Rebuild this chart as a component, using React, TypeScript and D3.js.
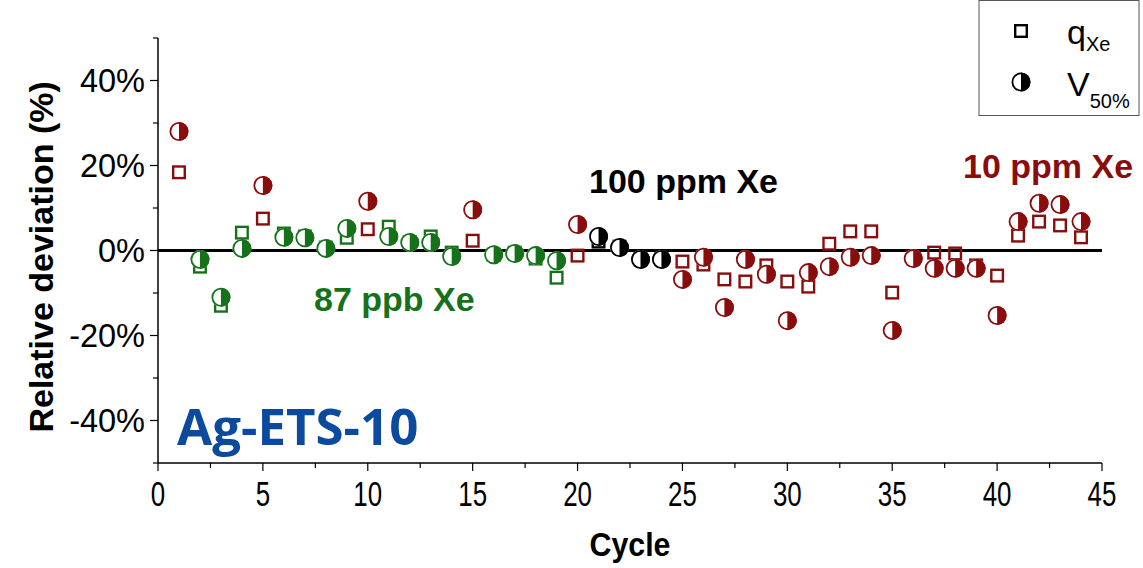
import React, { useRef, useEffect } from "react";
import * as d3 from "d3";

// Layout
const WIDTH = 1143;
const HEIGHT = 568;
const PLOT_LEFT = 158;
const PLOT_RIGHT = 1102;
const PLOT_TOP = 38;
const PLOT_BOTTOM = 463;

const SQUARE_SIZE = 14;
const CIRCLE_R = 9.5;

const RED = "#8a0d0d";
const GREEN = "#16721a";
const BLACK = "#000000";
const BLUE = "#0b4a9c";

// Data (relative deviation, %)
const cycles = d3.range(1, 45);
const qXe = [
  18.4, -3.8, -13, 4.2, 7.5, 4, 3.3, 0.7, 3, 5,
  5.6, 2, 3.3, -0.5, 2.3, -1, -0.5, -1.9, -6.4, -1.2,
  2.1, 0.9, -1.9, -1.9, -2.6, -3.3, -6.8, -7.3, -3.5, -7.3,
  -8.5, 1.6, 4.5, 4.5, -9.9, -1.6, -0.5, -0.7, -3.5, -5.9,
  3.5, 6.8, 5.9, 3.1
];
const v50 = [
  28, -2.1, -11, 0.5, 15.3, 3.1, 3, 0.5, 5.2, 11.6,
  3.3, 1.9, 1.9, -1.4, 9.6, -1, -0.7, -1.2, -2.4, 6.1,
  3.3, 0.7, -2.1, -2.1, -6.8, -1.6, -13.4, -2.1, -5.6, -16.5,
  -5.2, -3.8, -1.6, -1.2, -18.8, -1.9, -4.2, -4.2, -4.2, -15.3,
  6.8, 11.1, 10.8, 6.8
];
// feed gas for each cycle: "10ppm" | "87ppb" | "100ppm"
const feed = [
  "10ppm", "87ppb", "87ppb", "87ppb", "10ppm", "87ppb", "87ppb", "87ppb", "87ppb", "10ppm",
  "87ppb", "87ppb", "87ppb", "87ppb", "10ppm", "87ppb", "87ppb", "87ppb", "87ppb", "10ppm",
  "100ppm", "100ppm", "100ppm", "100ppm", "10ppm", "10ppm", "10ppm", "10ppm", "10ppm", "10ppm",
  "10ppm", "10ppm", "10ppm", "10ppm", "10ppm", "10ppm", "10ppm", "10ppm", "10ppm", "10ppm",
  "10ppm", "10ppm", "10ppm", "10ppm"
];
const xTicks = d3.range(0, 46, 5);
const yTicks = [-40, -20, 0, 20, 40];

const feedColor = { "10ppm": RED, "87ppb": GREEN, "100ppm": BLACK };

export default function App() {
  const svgRef = useRef(null);

  useEffect(() => {
    drawChart();
  }, []);

  function halfCircle(g, cx, cy, color) {
    g.append("circle")
      .attr("cx", cx).attr("cy", cy).attr("r", CIRCLE_R)
      .attr("fill", "#fff");
    // right half filled
    g.append("path")
      .attr("d", `M${cx},${cy - CIRCLE_R} A${CIRCLE_R},${CIRCLE_R} 0 0 1 ${cx},${cy + CIRCLE_R} Z`)
      .attr("fill", color);
    g.append("circle")
      .attr("cx", cx).attr("cy", cy).attr("r", CIRCLE_R - 0.9)
      .attr("fill", "none")
      .attr("stroke", color)
      .attr("stroke-width", 1.8);
  }

  function square(g, cx, cy, color) {
    g.append("rect")
      .attr("x", cx - SQUARE_SIZE / 2 + 1.2)
      .attr("y", cy - SQUARE_SIZE / 2 + 1.2)
      .attr("width", SQUARE_SIZE - 2.4)
      .attr("height", SQUARE_SIZE - 2.4)
      .attr("fill", "none")
      .attr("stroke", color)
      .attr("stroke-width", 2.4);
  }

  function drawChart() {
    const svg = d3.select(svgRef.current);
    svg.selectAll("*").remove();

    const x = d3.scaleLinear().domain([0, 45]).range([PLOT_LEFT, PLOT_RIGHT]);
    const y = d3.scaleLinear().domain([-50, 50]).range([PLOT_BOTTOM, PLOT_TOP]);

    const font = "'Liberation Sans', Arial, sans-serif";

    // zero line
    svg.append("line")
      .attr("x1", x(0)).attr("x2", x(45))
      .attr("y1", y(0)).attr("y2", y(0))
      .attr("stroke", "#000").attr("stroke-width", 3);

    // x axis
    const xAxis = svg.append("g").attr("transform", `translate(0,${PLOT_BOTTOM})`);
    xAxis.append("line").attr("x1", x(0)).attr("x2", x(45)).attr("stroke", "#000").attr("stroke-width", 1.5);
    d3.range(0, 45.1, 2.5).forEach((t) => {
      const major = t % 5 === 0;
      xAxis.append("line")
        .attr("x1", x(t)).attr("x2", x(t))
        .attr("y1", 0).attr("y2", major ? 8 : 5)
        .attr("stroke", "#000").attr("stroke-width", 1.2);
    });
    xTicks.forEach((t) => {
      xAxis.append("text")
        .attr("transform", `translate(${x(t)},43) scale(0.72,1)`)
        .attr("text-anchor", "middle")
        .style("font-family", font)
        .style("font-size", "36px")
        .text(t);
    });
    svg.append("text")
      .attr("transform", `translate(${x(22.5)},556) scale(0.92,1)`)
      .attr("text-anchor", "middle")
      .style("font-family", font)
      .style("font-weight", "bold")
      .style("font-size", "33px")
      .text("Cycle");

    // y axis
    const yAxis = svg.append("g").attr("transform", `translate(${PLOT_LEFT},0)`);
    yAxis.append("line").attr("y1", y(-50)).attr("y2", y(50)).attr("stroke", "#000").attr("stroke-width", 1.5);
    d3.range(-50, 50.1, 10).forEach((t) => {
      const major = t % 20 === 0;
      yAxis.append("line")
        .attr("x1", 0).attr("x2", major ? -8 : -5)
        .attr("y1", y(t)).attr("y2", y(t))
        .attr("stroke", "#000").attr("stroke-width", 1.2);
    });
    yTicks.forEach((t) => {
      yAxis.append("text")
        .attr("x", -13)
        .attr("y", y(t) + 11.5)
        .attr("text-anchor", "end")
        .style("font-family", font)
        .style("font-size", "32.5px")
        .text(t + "%");
    });
    svg.append("text")
      .attr("transform", `translate(53,${y(-1.5)}) rotate(-90)`)
      .attr("text-anchor", "middle")
      .style("font-family", font)
      .style("font-weight", "bold")
      .style("font-size", "34px")
      .text("Relative deviation (%)");

    // points
    const pts = svg.append("g");
    cycles.forEach((c, i) => {
      const color = feedColor[feed[i]];
      square(pts, x(c), y(qXe[i]), color);
      halfCircle(pts, x(c), y(v50[i]), color);
    });

    // annotations
    const ann = (txt, tx, ty, color, size, family) => {
      svg.append("text")
        .attr("x", tx).attr("y", ty)
        .style("font-family", family || font)
        .style("font-weight", "bold")
        .style("font-size", size + "px")
        .attr("fill", color)
        .text(txt);
    };
    ann("87 ppb Xe", 314, 311, GREEN, 34);
    ann("100 ppm Xe", 589, 193, BLACK, 34);
    ann("10 ppm Xe", 963, 178, RED, 34);
    ann("Ag-ETS-10", 177, 445, BLUE, 51, "'Open Sans', sans-serif");

    // legend
    const lg = svg.append("g");
    lg.append("rect")
      .attr("x", 979).attr("y", 0.5)
      .attr("width", 160).attr("height", 115)
      .attr("fill", "#fff").attr("stroke", "#555").attr("stroke-width", 1);
    square(lg, 1021, 31, "#000");
    halfCircle(lg, 1021, 82, "#000");
    const q = lg.append("text").attr("x", 1067).attr("y", 44)
      .style("font-family", font).style("font-size", "34px");
    q.append("tspan").text("q");
    q.append("tspan").attr("dy", 7).style("font-size", "20px").text("Xe");
    const v = lg.append("text").attr("x", 1067).attr("y", 96)
      .style("font-family", font).style("font-size", "34px");
    v.append("tspan").text("V");
    v.append("tspan").attr("dy", 12).style("font-size", "20px").text("50%");
  }

  return (
    <svg
      ref={svgRef}
      width={WIDTH}
      height={HEIGHT}
      style={{ position: "absolute", left: 0, top: 0, background: "#fff" }}
    ></svg>
  );
}
